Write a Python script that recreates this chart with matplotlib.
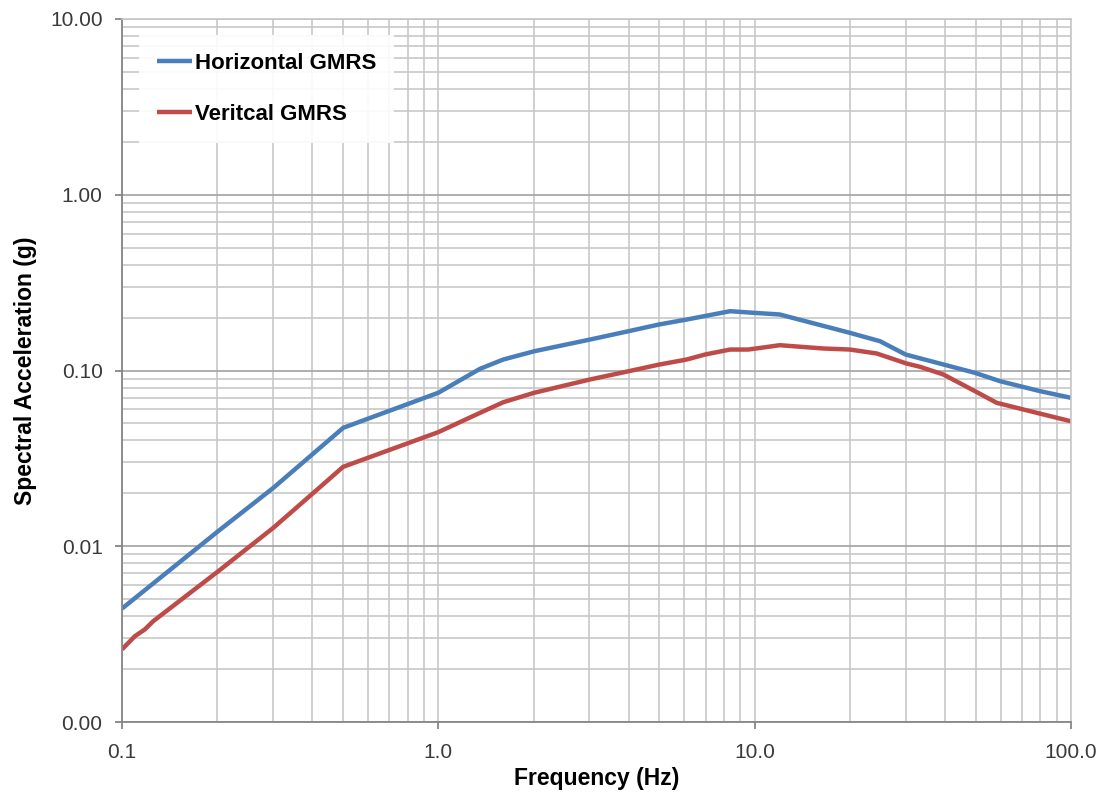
import matplotlib
matplotlib.use("Agg")
import matplotlib.pyplot as plt
from matplotlib.ticker import FixedLocator, FuncFormatter, LogLocator, NullFormatter

plt.rcParams['font.family'] = ['Liberation Sans', 'DejaVu Sans']

# Horizontal GMRS
h_freq = [0.1, 0.2015, 0.301, 0.5005, 1.0, 1.354, 1.605, 2.01, 3.016, 3.99, 4.98, 6.1,
          8.36, 9.9, 12.0, 20.0, 24.9, 30.0, 39.5, 49.7, 59.7, 79.8, 100.0]
h_acc = [0.00442, 0.0122, 0.0215, 0.0472, 0.0747, 0.1022, 0.1155, 0.1287, 0.150, 0.1673,
         0.1827, 0.195, 0.2175, 0.213, 0.2083, 0.1638, 0.1468, 0.1233, 0.1082, 0.097,
         0.0869, 0.0763, 0.0699]

# Vertical GMRS
v_freq = [0.1, 0.1099, 0.118, 0.1256, 0.2015, 0.301, 0.4025, 0.5, 1.0, 1.354, 1.605, 2.01,
          3.016, 3.99, 4.98, 6.1, 6.97, 8.36, 9.54, 10.1, 12.0, 16.5, 20.0, 24.3, 30.2,
          33.3, 39.5, 49.7, 58.2, 70.7, 100.0]
v_acc = [0.00259, 0.00308, 0.00336, 0.00375, 0.00721, 0.01274, 0.0201, 0.0283, 0.0446,
         0.0574, 0.066, 0.0747, 0.0889, 0.099, 0.108, 0.1155, 0.1233, 0.1316, 0.1316,
         0.1334, 0.1393, 0.1334, 0.1316, 0.125, 0.1096, 0.105, 0.0949, 0.0763, 0.0655,
         0.06, 0.0514]

x_ticks = [0.1, 1.0, 10.0, 100.0]
y_ticks = [0.001, 0.01, 0.1, 1.0, 10.0]

fig = plt.figure(figsize=(11.01, 7.93), dpi=100)
ax = fig.add_axes([122/1101, 71/793, (1071-122)/1101, (722-19)/793])

ax.set_xscale('log')
ax.set_yscale('log')
ax.set_xlim(0.1, 100)
ax.set_ylim(0.001, 10)

grid_c = '#c8c8c8'
major_c = '#a8a8a8'
ax.xaxis.set_major_locator(FixedLocator(x_ticks))
ax.yaxis.set_major_locator(FixedLocator(y_ticks))
ax.xaxis.set_minor_locator(LogLocator(base=10, subs=range(2, 10)))
ax.yaxis.set_minor_locator(LogLocator(base=10, subs=range(2, 10)))
ax.xaxis.set_minor_formatter(NullFormatter())
ax.yaxis.set_minor_formatter(NullFormatter())
ax.xaxis.set_major_formatter(FuncFormatter(lambda v, p: f"{v:.1f}"))
ax.yaxis.set_major_formatter(FuncFormatter(lambda v, p: f"{v:.2f}"))

ax.grid(True, which='minor', axis='both', color=grid_c, lw=1.2)
ax.grid(True, which='major', axis='x', color=grid_c, lw=1.2)
ax.grid(True, which='major', axis='y', color=major_c, lw=1.3)
ax.set_axisbelow(True)

for s in ['top', 'right']:
    ax.spines[s].set_color(grid_c)
    ax.spines[s].set_linewidth(1.2)
for s in ['left', 'bottom']:
    ax.spines[s].set_color('#868686')
    ax.spines[s].set_linewidth(1.3)

ax.tick_params(which='major', direction='out', length=5, width=1.3, color='#868686',
               labelsize=15, labelcolor='#3a3a3a')
ax.tick_params(which='minor', length=0)
ax.tick_params(axis='x', pad=10)
ax.tick_params(axis='y', pad=9)

ax.plot(h_freq, h_acc, color='#4a7ebb', lw=3.2, label='Horizontal GMRS', solid_capstyle='butt')
ax.plot(v_freq, v_acc, color='#be4b48', lw=3.2, label='Veritcal GMRS', solid_capstyle='butt')

ax.set_xlabel('Frequency (Hz)', fontsize=16.5, fontweight='bold', labelpad=4)
ax.set_ylabel('Spectral Acceleration (g)', fontsize=16.5, fontweight='bold', labelpad=9)

leg = ax.legend(loc='upper left', bbox_to_anchor=(17/949, 1 - 16/703), frameon=True,
                facecolor='white', edgecolor='none', framealpha=0.9, fancybox=False,
                prop={'weight': 'bold', 'size': 16}, handlelength=1.6, handletextpad=0.1,
                labelspacing=1.35, borderpad=0.8, borderaxespad=0)

fig.savefig('out.png', dpi=100)
